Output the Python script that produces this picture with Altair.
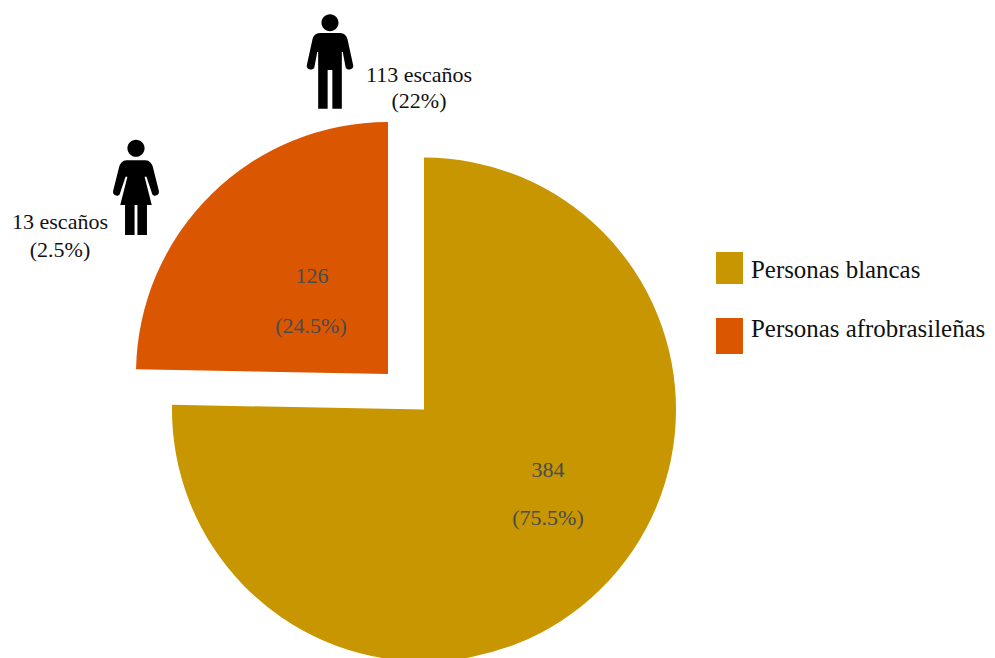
import altair as alt
import pandas as pd

groups = ["Personas blancas", "Personas afrobrasileñas"]
seats = [384, 126]
colors = ["#C79600", "#DA5600"]
share_labels = ["(75.5%)", "(24.5%)"]
seat_labels = ["384", "126"]

SERIF = "Liberation Serif"
OX, OY = 8, 8  # page margin, so positions below can be read as picture pixels


def px(v):
    return alt.value(v - OX)


def py(v):
    return alt.value(v - OY)


slices = pd.DataFrame({
    "group": groups,
    "seats": seats,
    "start": [0, seats[0]],
    "end": [seats[0], seats[0] + seats[1]],
})
theta_scale = alt.Scale(domain=[0, sum(seats)], range=[0, 6.283185])
color_scale = alt.Scale(domain=groups, range=colors)
centres = [(424, 409.5), (388, 374)]

layers = []
for i, g in enumerate(groups):
    layers.append(
        alt.Chart(slices.iloc[[i]])
        .mark_arc(radius=252, stroke=None)
        .encode(
            x=px(centres[i][0]),
            y=py(centres[i][1]),
            theta=alt.Theta("start:Q", scale=theta_scale, stack=None),
            theta2="end:Q",
            color=alt.Color("group:N", scale=color_scale, legend=None),
        )
    )


def text(label, x, y, size=22, color="#111111", align="center"):
    return (
        alt.Chart(pd.DataFrame({"t": [label]}))
        .mark_text(font=SERIF, fontSize=size, color=color, align=align, baseline="alphabetic")
        .encode(x=px(x), y=py(y), text="t:N")
    )


# values on the slices
SLICE_TEXT = "#474C50"
layers += [
    text(seat_labels[1], 312, 283, color=SLICE_TEXT),
    text(share_labels[1], 311, 333, color=SLICE_TEXT),
    text(seat_labels[0], 548, 477, color=SLICE_TEXT),
    text(share_labels[0], 548, 525, color=SLICE_TEXT),
]

# annotations
layers += [
    text("113 escaños", 419, 82),
    text("(22%)", 419, 108),
    text("13 escaños", 60, 229),
    text("(2.5%)", 60, 257),
]

# hand-built legend (non-square swatches)
legend_boxes = [(252, 284), (318, 354)]
legend_baselines = [278, 337]
for i, g in enumerate(groups):
    layers.append(
        alt.Chart(slices.iloc[[i]])
        .mark_rect()
        .encode(
            x=px(716), x2=px(743), y=py(legend_boxes[i][0]), y2=py(legend_boxes[i][1]),
            color=alt.Color("group:N", scale=color_scale, legend=None),
        )
    )
    layers.append(text(g, 751, legend_baselines[i], size=24.9, align="left"))

# people pictograms
HEAD_M = "M -.18 -.82 A .18 .18 0 1 1 .18 -.82 A .18 .18 0 1 1 -.18 -.82 Z "
MAN = HEAD_M + (
    "M -.21 -.60 L .21 -.60 C .30 -.60 .35 -.54 .37 -.47 L .49 .08 C .51 .18 .35 .20 .33 .12 "
    "L .27 -.2 L .25 -.2 L .25 1 L .05 1 L .05 .18 L -.05 .18 L -.05 1 L -.25 1 L -.25 -.2 "
    "L -.27 -.2 L -.33 .12 C -.35 .20 -.51 .18 -.49 .08 L -.37 -.47 C -.35 -.54 -.30 -.60 -.21 -.60 Z"
)
WOMAN = HEAD_M + (
    "M -.2 -.57 L .2 -.57 C .28 -.57 .33 -.5 .35 -.44 L .48 .08 C .5 .18 .36 .21 .34 .14 "
    "L .22 -.22 L .18 -.22 L .33 .37 L .23 .37 L .23 1 L .03 1 L .03 .37 L -.03 .37 L -.03 1 "
    "L -.23 1 L -.23 .37 L -.33 .37 L -.18 -.22 L -.22 -.22 L -.34 .14 C -.36 .21 -.5 .18 -.48 .08 "
    "L -.35 -.44 C -.33 -.5 -.28 -.57 -.2 -.57 Z"
)
for shape, x, y, size in [(MAN, 330, 61.5, 8950), (WOMAN, 136, 187.3, 9090)]:
    layers.append(
        alt.Chart(pd.DataFrame({"n": [1]}))
        .mark_point(shape=shape, filled=True, color="#000000", opacity=1, strokeWidth=0, size=size)
        .encode(x=px(x), y=py(y))
    )

chart = (
    alt.layer(*layers)
    .properties(
        width=979,
        height=650,
        padding=0,
        autosize=alt.AutoSizeParams(type="none"),
        background="#ffffff",
    )
    .configure_view(stroke=None, clip=False)
)

chart.save("out.html", embed_options={"renderer": "svg", "actions": False})
